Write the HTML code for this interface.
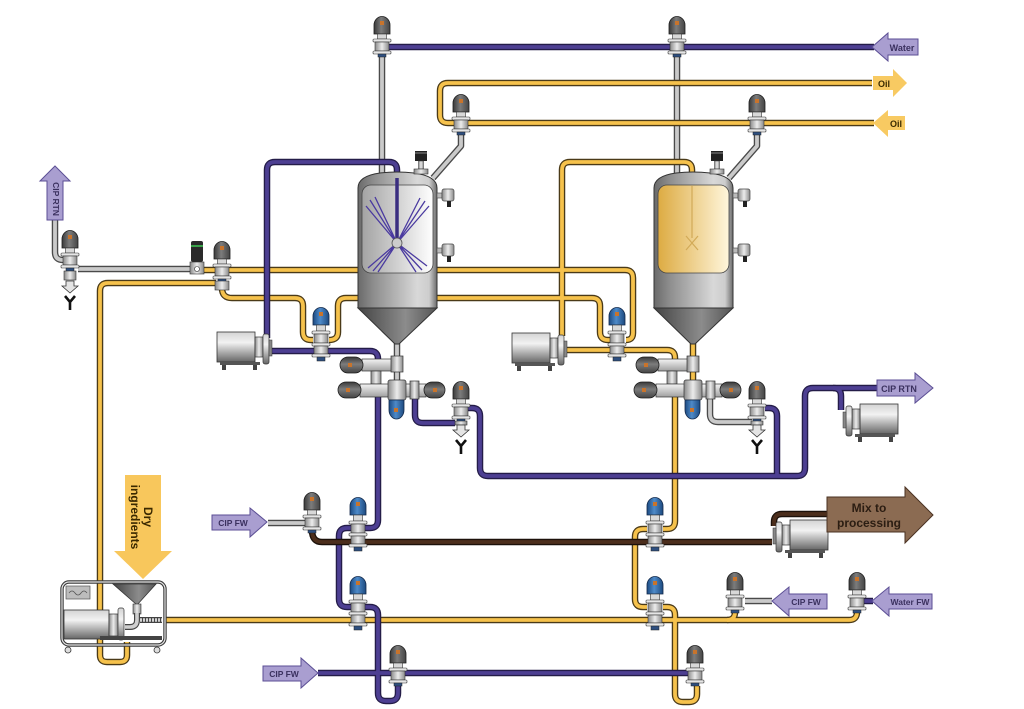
<!DOCTYPE html>
<html><head><meta charset="utf-8">
<style>
html,body{margin:0;padding:0;background:#fff;}
svg{display:block;}
text{font-family:"Liberation Sans",Arial,sans-serif;font-weight:bold;}
</style></head><body>
<svg width="1024" height="709" viewBox="0 0 1024 709" xmlns="http://www.w3.org/2000/svg">
<defs>
 <linearGradient id="hg" x1="0" y1="0" x2="1" y2="0"><stop offset="0" stop-color="#3a3a3a"/><stop offset=".45" stop-color="#7c7c7c"/><stop offset="1" stop-color="#444"/></linearGradient>
 <linearGradient id="hgV" x1="0" y1="0" x2="0" y2="1"><stop offset="0" stop-color="#3a3a3a"/><stop offset=".45" stop-color="#7c7c7c"/><stop offset="1" stop-color="#444"/></linearGradient>
 <linearGradient id="hb" x1="0" y1="0" x2="1" y2="0"><stop offset="0" stop-color="#1c4a82"/><stop offset=".45" stop-color="#4e8ac8"/><stop offset="1" stop-color="#1d4a80"/></linearGradient>
 <linearGradient id="met" x1="0" y1="0" x2="0" y2="1"><stop offset="0" stop-color="#f4f4f4"/><stop offset="1" stop-color="#a0a0a0"/></linearGradient>
 <linearGradient id="metH" x1="0" y1="0" x2="1" y2="0"><stop offset="0" stop-color="#8a8a8a"/><stop offset=".5" stop-color="#ececec"/><stop offset="1" stop-color="#8a8a8a"/></linearGradient>
 <linearGradient id="tank" x1="0" y1="0" x2="1" y2="0"><stop offset="0" stop-color="#6a6a6a"/><stop offset=".2" stop-color="#8e8e8e"/><stop offset=".75" stop-color="#d8d8d8"/><stop offset=".9" stop-color="#cdcdcd"/><stop offset="1" stop-color="#6c6c6c"/></linearGradient>
 <linearGradient id="cone" x1="0" y1="0" x2="1" y2="0"><stop offset="0" stop-color="#444"/><stop offset=".6" stop-color="#8c8c8c"/><stop offset="1" stop-color="#555"/></linearGradient>
 <linearGradient id="winG" x1="0" y1="0" x2="1" y2="0"><stop offset="0" stop-color="#a3a3a3"/><stop offset="1" stop-color="#ffffff"/></linearGradient>
 <linearGradient id="winY" x1="0" y1="0" x2="1" y2="0"><stop offset="0" stop-color="#ddab42"/><stop offset="1" stop-color="#fff6dc"/></linearGradient>
 <linearGradient id="motor" x1="0" y1="0" x2="0" y2="1"><stop offset="0" stop-color="#d4d4d4"/><stop offset=".35" stop-color="#f2f2f2"/><stop offset="1" stop-color="#666"/></linearGradient>

 <g id="vG">
  <path d="M-8,-13 V-22 A8,8.5 0 0 1 8,-22 V-13 Z" fill="url(#hg)" stroke="#1e1e1e" stroke-width=".8"/>
  <rect x="-2" y="-26" width="4" height="4" fill="#c8742c"/>
  <rect x="-4.5" y="-13" width="9" height="5" fill="#d8d8d8" stroke="#333" stroke-width=".6"/>
  <rect x="-9" y="-8" width="18" height="3" rx="1" fill="#e6e6e6" stroke="#333" stroke-width=".6"/>
  <rect x="-7" y="-5" width="14" height="9" fill="url(#metH)" stroke="#333" stroke-width=".6"/>
  <rect x="-9" y="4" width="18" height="3" rx="1" fill="#e6e6e6" stroke="#333" stroke-width=".6"/>
  <rect x="-4" y="7" width="8" height="3" fill="#2e4f80" stroke="#222" stroke-width=".5"/>
 </g>
 <g id="vB">
  <path d="M-8,-20 V-29 A8,8.5 0 0 1 8,-29 V-20 Z" fill="url(#hb)" stroke="#13294a" stroke-width=".8"/>
  <rect x="-2" y="-33" width="4" height="4" fill="#c8742c"/>
  <rect x="-4.5" y="-20" width="9" height="6" fill="#d8d8d8" stroke="#333" stroke-width=".6"/>
  <rect x="-9" y="-14" width="18" height="3" rx="1" fill="#e6e6e6" stroke="#333" stroke-width=".6"/>
  <rect x="-7" y="-11" width="14" height="9" fill="url(#metH)" stroke="#333" stroke-width=".6"/>
  <rect x="-9" y="-2" width="18" height="3" rx="1" fill="#e6e6e6" stroke="#333" stroke-width=".6"/>
  <rect x="-7" y="1" width="14" height="8" fill="url(#metH)" stroke="#333" stroke-width=".6"/>
  <rect x="-9" y="9" width="18" height="3" rx="1" fill="#e6e6e6" stroke="#333" stroke-width=".6"/>
  <rect x="-4" y="12" width="8" height="4" fill="#2e4f80" stroke="#222" stroke-width=".5"/>
 </g>
 <g id="drain">
  <polygon points="-4,0 4,0 4,5 8,5 0,12 -8,5 -4,5" fill="#e4e4e4" stroke="#333" stroke-width=".8"/>
  <path d="M-5,15 L0,21 L5,15 M0,21 V29" fill="none" stroke="#111" stroke-width="2.6"/>
 </g>
 <g id="pump">
  <rect x="0" y="0" width="38" height="30" fill="url(#motor)" stroke="#333" stroke-width=".8"/>
  <rect x="38" y="5" width="8" height="20" fill="url(#metH)" stroke="#333" stroke-width=".7"/>
  <rect x="46" y="2" width="6" height="30" rx="2" fill="url(#motor)" stroke="#333" stroke-width=".7"/>
  <rect x="52" y="8" width="3" height="16" fill="#888" stroke="#333" stroke-width=".5"/>
  <rect x="3" y="30" width="40" height="3" fill="#555"/>
  <rect x="5" y="33" width="4" height="5" fill="#444"/>
  <rect x="36" y="33" width="4" height="5" fill="#444"/>
 </g>
 <g id="inst">
  <rect x="0" y="-2" width="5" height="5" fill="#bbb" stroke="#444" stroke-width=".6"/>
  <rect x="5" y="-6" width="12" height="12" rx="2" fill="url(#metH)" stroke="#444" stroke-width=".7"/>
  <rect x="10" y="6" width="4" height="6" fill="#222"/>
 </g>
 <g id="gauge">
  <rect x="-6" y="0" width="12" height="10" fill="#222"/>
  <rect x="-6" y="1" width="12" height="2" fill="#555"/>
  <rect x="-2.5" y="10" width="5" height="8" fill="url(#metH)" stroke="#333" stroke-width=".5"/>
  <rect x="-7" y="18" width="14" height="5" fill="url(#metH)" stroke="#333" stroke-width=".6"/>
 </g>
 <g id="cl">
  <rect x="362" y="359" width="32" height="12" fill="url(#met)" stroke="#333" stroke-width=".7"/>
  <rect x="391" y="356" width="12" height="16" fill="url(#metH)" stroke="#333" stroke-width=".7"/>
  <rect x="371" y="371" width="10" height="13" fill="url(#metH)" stroke="#333" stroke-width=".7"/>
  <rect x="360" y="384" width="66" height="13" fill="url(#met)" stroke="#333" stroke-width=".7"/>
  <rect x="388" y="380" width="18" height="20" rx="2" fill="url(#metH)" stroke="#333" stroke-width=".7"/>
  <rect x="410" y="381" width="9" height="18" fill="url(#metH)" stroke="#333" stroke-width=".7"/>
  <rect x="340" y="357" width="23" height="16" rx="8" fill="url(#hgV)" stroke="#1e1e1e" stroke-width=".8"/>
  <rect x="338" y="382" width="23" height="16" rx="8" fill="url(#hgV)" stroke="#1e1e1e" stroke-width=".8"/>
  <rect x="424" y="382" width="21" height="16" rx="8" fill="url(#hgV)" stroke="#1e1e1e" stroke-width=".8"/>
  <path d="M389,400 V410 A7.5,9 0 0 0 404,410 V400 Z" fill="url(#hb)" stroke="#13294a" stroke-width=".8"/>
  <rect x="348" y="363" width="4" height="4" fill="#c8742c"/>
  <rect x="346" y="388" width="4" height="4" fill="#c8742c"/>
  <rect x="433" y="388" width="4" height="4" fill="#c8742c"/>
  <rect x="394" y="408" width="4" height="4" fill="#c8742c"/>
 </g>

 <g id="pY" fill="none" stroke-linecap="butt" stroke-linejoin="round">
  <path d="M872,83 H448 Q440,83 440,91 V115 Q440,123 448,123 H874"/>
  <path d="M198,270 H625 Q633,270 633,278 V333 Q633,340 626,340"/>
  <path d="M222,288 Q222,298 232,298 H295 Q303,298 303,306 V332 Q303,340 311,340 H313"/>
  <path d="M329,340 Q338,340 338,332 V306 Q338,298 346,298 H592 Q600,298 600,306 V332 Q600,340 608,340 H610"/>
  <path d="M216,283 H108 Q100,283 100,291 V612"/>
  <path d="M562,336 V170 Q562,162 570,162 H684 Q692,162 692,170 V178"/>
  <path d="M567,350 H667 Q675,350 675,358 V362"/>
  <path d="M693,342 V386"/>
  <path d="M675,396 V521 Q675,529 667,529 H663"/>
  <path d="M647,529 H643 Q635,529 635,537 V599 Q635,607 643,607 H647"/>
  <path d="M663,607 H667 Q675,607 675,615 V694 Q675,702 683,702 H689 Q697,702 697,694 V686"/>
  <path d="M165,620 H849 Q857,620 857,612 V610"/>
  <path d="M727,620 Q735,620 735,612 V610"/>
  <path d="M100,612 V655 Q100,662 107,662 H120 Q127,662 127,655 V642"/>
 </g>
 <g id="pP" fill="none" stroke-linejoin="round">
  <path d="M383,47 H874"/>
  <path d="M267,338 V170 Q267,162 275,162 H389 Q397,162 397,170 V180"/>
  <path d="M272,351 H370 Q378,351 378,359 V362"/>
  <path d="M378,396 V520 Q378,528 370,528 H365"/>
  <path d="M351,528 H347 Q339,528 339,536 V599 Q339,607 347,607 H351"/>
  <path d="M365,607 H370 Q378,607 378,615 V693 Q378,701 386,701 H390 Q398,701 398,693 V686"/>
  <path d="M318,673 H690"/>
  <path d="M415,397 V415 Q415,423 423,423 H455"/>
  <path d="M466,408 H472 Q480,408 480,416 V468 Q480,476 488,476 H797 Q805,476 805,468 V396 Q805,388 813,388 H879"/>
  <path d="M833,388 Q841,388 841,396 V410"/>
  <path d="M765,408 H769 Q777,408 777,416 V476"/>
  <path d="M861,601 H873"/>
 </g>
 <g id="pG" fill="none" stroke-linejoin="round">
  <path d="M382,57 V174"/>
  <path d="M677,57 V174"/>
  <path d="M461,135 V146 L433,178"/>
  <path d="M757,135 V146 L729,178"/>
  <path d="M55,218 V252 Q55,260 63,260 H66"/>
  <path d="M78,269 H193"/>
  <path d="M397,342 V386"/>
  <path d="M710,397 V414 Q710,422 718,422 H752"/>
  <path d="M268,523 H306"/>
  <path d="M745,601 H772"/>
 </g>
 <g id="pB" fill="none" stroke-linejoin="round">
  <path d="M312,530 Q312,542 322,542 H772"/>
  <path d="M774,526 V522 Q774,514 782,514 H829"/>
 </g>
</defs>

<rect width="1024" height="709" fill="#fff"/>

<!-- pipes -->
<use href="#pG" stroke="#4a4a4a" stroke-width="6.5"/>
<use href="#pG" stroke="#cacaca" stroke-width="3.8"/>
<use href="#pY" stroke="#4a3a18" stroke-width="6.5"/>
<use href="#pY" stroke="#f6c24c" stroke-width="3.8"/>
<use href="#pP" stroke="#241c48" stroke-width="6.5"/>
<use href="#pP" stroke="#4d3f92" stroke-width="3.8"/>
<use href="#pB" stroke="#1c110a" stroke-width="6.5"/>
<use href="#pB" stroke="#4c2e1c" stroke-width="3.8"/>

<!-- left tank -->
<path d="M358,308 V188 Q358,176 380,173 Q397,171 414,173 Q437,176 437,188 V308 Z" fill="url(#tank)" stroke="#333" stroke-width="1"/>
<path d="M358,308 H437 L399,344 H395 Z" fill="url(#cone)" stroke="#333" stroke-width="1"/>
<rect x="362" y="185" width="71" height="88" rx="9" fill="url(#winG)" stroke="#444" stroke-width=".8"/>
<path d="M397,178 V238" stroke="#3a2e80" stroke-width="3.5" fill="none"/>
<g stroke="#4a3aa0" stroke-width="1.3" fill="none">
 <path d="M397,243 L366,206 M397,243 L370,200 M397,243 L375,197"/>
 <path d="M397,243 L420,198 M397,243 L425,201 M397,243 L429,206"/>
 <path d="M397,243 L368,268 M397,243 L373,271 M397,243 L378,272"/>
 <path d="M397,243 L416,272 M397,243 L422,270 M397,243 L427,266"/>
</g>
<circle cx="397" cy="243" r="5" fill="#ccc" stroke="#555" stroke-width=".8"/>
<use href="#inst" x="437" y="195"/>
<use href="#inst" x="437" y="250"/>
<use href="#gauge" x="421" y="151"/>

<!-- right tank -->
<path d="M654,308 V188 Q654,176 676,173 Q693,171 710,173 Q733,176 733,188 V308 Z" fill="url(#tank)" stroke="#333" stroke-width="1"/>
<path d="M654,308 H733 L695,344 H691 Z" fill="url(#cone)" stroke="#333" stroke-width="1"/>
<rect x="658" y="185" width="71" height="88" rx="9" fill="url(#winY)" stroke="#444" stroke-width=".8"/>
<path d="M692,186 V238" stroke="#d2aa58" stroke-width="1.2"/>
<path d="M686,236 L698,250 M698,236 L686,250" stroke="#d2aa58" stroke-width="1.2"/>
<use href="#inst" x="733" y="195"/>
<use href="#inst" x="733" y="250"/>
<use href="#gauge" x="717" y="151"/>

<!-- valve clusters -->
<use href="#cl"/>
<use href="#cl" x="296"/>

<!-- pumps -->
<use href="#pump" transform="translate(217,332)"/>
<use href="#pump" transform="translate(512,333)"/>
<use href="#pump" transform="translate(898,404) scale(-1,1)"/>
<use href="#pump" transform="translate(828,520) scale(-1,1)"/>

<!-- mixer -->
<rect x="62" y="582" width="103" height="63" rx="7" fill="none" stroke="#3a3a3a" stroke-width="3.4"/>
<rect x="62" y="582" width="103" height="63" rx="7" fill="none" stroke="#e4e4e4" stroke-width="1.2"/>
<rect x="66" y="586" width="24" height="13" fill="#bdbdbd" stroke="#555" stroke-width=".7"/>
<path d="M69,593 q3,-4 6,0 t6,0 t6,0" fill="none" stroke="#555" stroke-width=".8"/>
<rect x="64" y="610" width="45" height="29" fill="url(#motor)" stroke="#333" stroke-width=".8"/>
<rect x="109" y="614" width="9" height="22" fill="url(#metH)" stroke="#333" stroke-width=".7"/>
<rect x="118" y="608" width="6" height="32" rx="2" fill="url(#motor)" stroke="#333" stroke-width=".7"/>
<polygon points="113,584 156,584 137,605" fill="url(#cone)" stroke="#333" stroke-width=".8"/>
<rect x="133" y="604" width="8" height="10" fill="url(#metH)" stroke="#333" stroke-width=".6"/>
<path d="M137,613 V620 Q137,627 130,627 H125" fill="none" stroke="#444" stroke-width="6"/>
<path d="M137,613 V620 Q137,627 130,627 H125" fill="none" stroke="#cfcfcf" stroke-width="3.6"/>
<path d="M140,620 H162" stroke="#444" stroke-width="6"/>
<path d="M140,620 H162" stroke="#d4d4d4" stroke-width="3.6" stroke-dasharray="2,1"/>
<rect x="100" y="636" width="62" height="4" fill="#444"/>
<circle cx="68" cy="650" r="3" fill="#ddd" stroke="#333" stroke-width=".8"/>
<circle cx="157" cy="650" r="3" fill="#ddd" stroke="#333" stroke-width=".8"/>

<!-- instrument near left valve -->
<rect x="191" y="241" width="12" height="21" rx="2" fill="#2a2a2a"/>
<rect x="191" y="245" width="12" height="2" fill="#3aa24a"/>
<rect x="190" y="262" width="14" height="12" fill="url(#metH)" stroke="#333" stroke-width=".6"/>
<circle cx="197" cy="269" r="2.5" fill="#fff" stroke="#333" stroke-width=".6"/>

<!-- valves -->
<use href="#vG" x="382" y="47"/>
<use href="#vG" x="677" y="47"/>
<use href="#vG" x="461" y="125"/>
<use href="#vG" x="757" y="125"/>
<use href="#vG" x="70" y="261"/>
<rect x="64" y="271" width="12" height="9" fill="url(#metH)" stroke="#333" stroke-width=".6"/>
<use href="#drain" x="70" y="281"/>
<use href="#vG" x="222" y="272"/>
<rect x="215" y="281" width="14" height="9" fill="url(#metH)" stroke="#333" stroke-width=".6"/>
<use href="#vB" x="321" y="345"/>
<use href="#vB" x="617" y="345"/>
<use href="#vG" x="461" y="412"/>
<rect x="455" y="421" width="12" height="4" fill="url(#metH)" stroke="#333" stroke-width=".6"/>
<use href="#drain" x="461" y="425"/>
<use href="#vG" x="757" y="412"/>
<rect x="751" y="421" width="12" height="4" fill="url(#metH)" stroke="#333" stroke-width=".6"/>
<use href="#drain" x="757" y="425"/>
<use href="#vG" x="312" y="523"/>
<use href="#vB" x="358" y="535"/>
<use href="#vB" x="358" y="614"/>
<use href="#vB" x="655" y="535"/>
<use href="#vB" x="655" y="614"/>
<use href="#vG" x="398" y="676"/>
<use href="#vG" x="695" y="676"/>
<use href="#vG" x="735" y="603"/>
<use href="#vG" x="857" y="603"/>

<!-- arrows -->
<polygon points="872,47 888,33 888,39 918,39 918,55 888,55 888,61" fill="#a99ed0" stroke="#5b4e94" stroke-width="1"/>
<text x="902" y="51" font-size="9" fill="#3b315f" text-anchor="middle">Water</text>
<polygon points="873,76 893,76 893,69 907,83 893,97 893,90 873,90" fill="#f8ca62"/>
<text x="884" y="87" font-size="9" fill="#3a2a00" text-anchor="middle">Oil</text>
<polygon points="873,123 888,110 888,116 905,116 905,130 888,130 888,137" fill="#f8ca62"/>
<text x="896" y="127" font-size="9" fill="#3a2a00" text-anchor="middle">Oil</text>
<polygon points="55,166 70,181 63,181 63,220 47,220 47,181 40,181" fill="#a99ed0" stroke="#5b4e94" stroke-width="1"/>
<text transform="translate(56,199) rotate(90)" y="3" font-size="8.5" fill="#3b315f" text-anchor="middle">CIP RTN</text>
<polygon points="877,380 915,380 915,373 933,388 915,403 915,396 877,396" fill="#a99ed0" stroke="#5b4e94" stroke-width="1"/>
<text x="899" y="392" font-size="9" fill="#3b315f" text-anchor="middle">CIP RTN</text>
<polygon points="827,497 905,497 905,487 933,515 905,543 905,532 827,532" fill="#8b6b52" stroke="#4a3222" stroke-width="1"/>
<text x="869" y="512" font-size="12" fill="#2b1d12" text-anchor="middle">Mix to</text>
<text x="869" y="527" font-size="12" fill="#2b1d12" text-anchor="middle">processing</text>
<polygon points="212,515 250,515 250,508 267,522 250,537 250,530 212,530" fill="#a99ed0" stroke="#5b4e94" stroke-width="1"/>
<text x="233" y="526" font-size="8.5" fill="#3b315f" text-anchor="middle">CIP FW</text>
<polygon points="263,666 301,666 301,658 318,673 301,688 301,681 263,681" fill="#a99ed0" stroke="#5b4e94" stroke-width="1"/>
<text x="284" y="677" font-size="8.5" fill="#3b315f" text-anchor="middle">CIP FW</text>
<polygon points="772,601 789,587 789,594 827,594 827,609 789,609 789,616" fill="#a99ed0" stroke="#5b4e94" stroke-width="1"/>
<text x="806" y="605" font-size="8.5" fill="#3b315f" text-anchor="middle">CIP FW</text>
<polygon points="872,601 889,587 889,594 932,594 932,609 889,609 889,616" fill="#a99ed0" stroke="#5b4e94" stroke-width="1"/>
<text x="910" y="605" font-size="8.5" fill="#3b315f" text-anchor="middle">Water FW</text>
<polygon points="125,475 161,475 161,551 172,551 143,579 114,551 125,551" fill="#f8c75c"/>
<text transform="translate(148,517) rotate(90)" y="4" font-size="12" fill="#3a2800" text-anchor="middle">Dry</text>
<text transform="translate(135,517) rotate(90)" y="4" font-size="12" fill="#3a2800" text-anchor="middle">ingredients</text>
</svg>
</body></html>
